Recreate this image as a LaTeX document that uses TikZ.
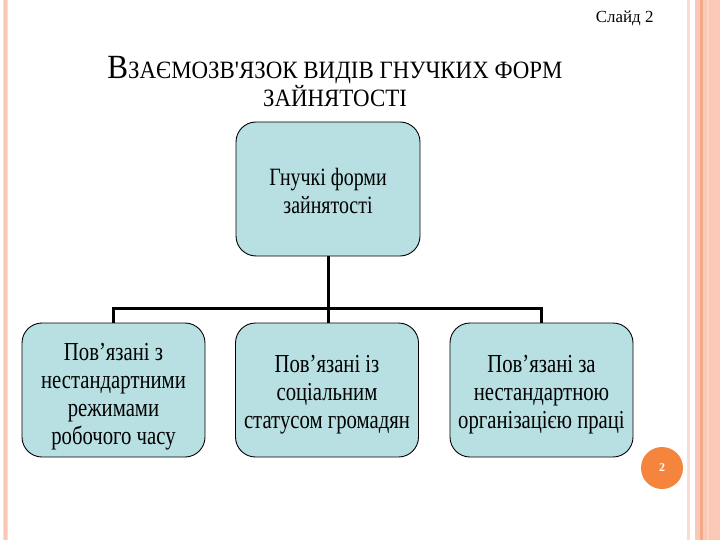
\documentclass[tikz,border=0pt]{standalone}
\usepackage{fontspec}
\setmainfont{Liberation Serif}
\newfontfamily\cond{Liberation Serif}[FakeStretch=0.8]
\newfontfamily\tcond{Liberation Serif}[FakeStretch=0.92]
\usetikzlibrary{positioning}
\definecolor{boxfill}{HTML}{B8DFE2}
\definecolor{salmon}{HTML}{FAC8B4}
\definecolor{salmonD}{HTML}{F2AA8A}
\definecolor{salmonL}{HTML}{FCDCD0}
\definecolor{orangeC}{HTML}{F5843C}
\newcommand\boxtxt[2]{\smash{\raisebox{#1}{\parbox[c]{182bp}{\centering #2}}}}
\tikzset{
  box/.style={draw=black, line width=0.9pt, fill=boxfill, rounded corners=20bp,
    minimum width=183bp, minimum height=134bp, align=center, inner sep=0pt,
    font=\cond\fontsize{26}{28}\selectfont},
  conn/.style={line width=3bp, black},
  ttl/.style={anchor=base, inner sep=0pt, font=\tcond},
}
\begin{document}
\begin{tikzpicture}[x=1bp,y=-1bp]
\useasboundingbox (0,0) rectangle (720,540);
\fill[white] (0,0) rectangle (720,540);
% borders
\fill[salmonL] (3,0) rectangle (8,540);
\fill[salmon] (4,0) rectangle (7,540);
\fill[salmonL] (687,0) rectangle (690,540);
\fill[salmon] (695,0) rectangle (720,540);
\fill[salmonD] (700,0) rectangle (703,540);
\fill[salmonL!70!salmon] (707,0) rectangle (709,540);
% header
\node[font=\fontsize{17}{20}\selectfont, anchor=east] (slide) at (657,18) {Слайд 2};
\node[ttl] (title1) at (335,79)
  {{\fontsize{34}{34}\selectfont В}{\fontsize{25}{30}\selectfont ЗАЄМОЗВ{\char"0027}ЯЗОК ВИДІВ ГНУЧКИХ ФОРМ}};
\node[ttl] (title2) at (335,107) {\fontsize{25}{30}\selectfont ЗАЙНЯТОСТІ};
% boxes
\node[box, minimum width=184bp, font=\cond\fontsize{25}{28}\selectfont] (top) at (328,189)
  {\boxtxt{-8bp}{Гнучкі форми\\зайнятості}};
\node[box] (b1) at (113.5,390) {\boxtxt{-13bp}{Пов’язані з\\нестандартними\\режимами\\робочого часу}};
\node[box] (b2) at (327,390) {\boxtxt{-11bp}{Пов’язані із\\соціальним\\статусом громадян}};
\node[box] (b3) at (541.5,390) {\boxtxt{-11bp}{Пов’язані за\\нестандартною\\організацією праці}};
% connectors
\coordinate (bus) at (328,308);
\draw[conn] (top.south) -- (top.south |- b2.north);
\draw[conn] (b1.north) -- (b1.north |- bus) -- (b3.north |- bus) -- (b3.north);
% page number
\node[circle, fill=orangeC, minimum size=42bp, inner sep=0pt, text=white,
  font=\fontsize{12}{12}\selectfont\bfseries] (pg) at (662,468) {2};
\end{tikzpicture}
\end{document}
